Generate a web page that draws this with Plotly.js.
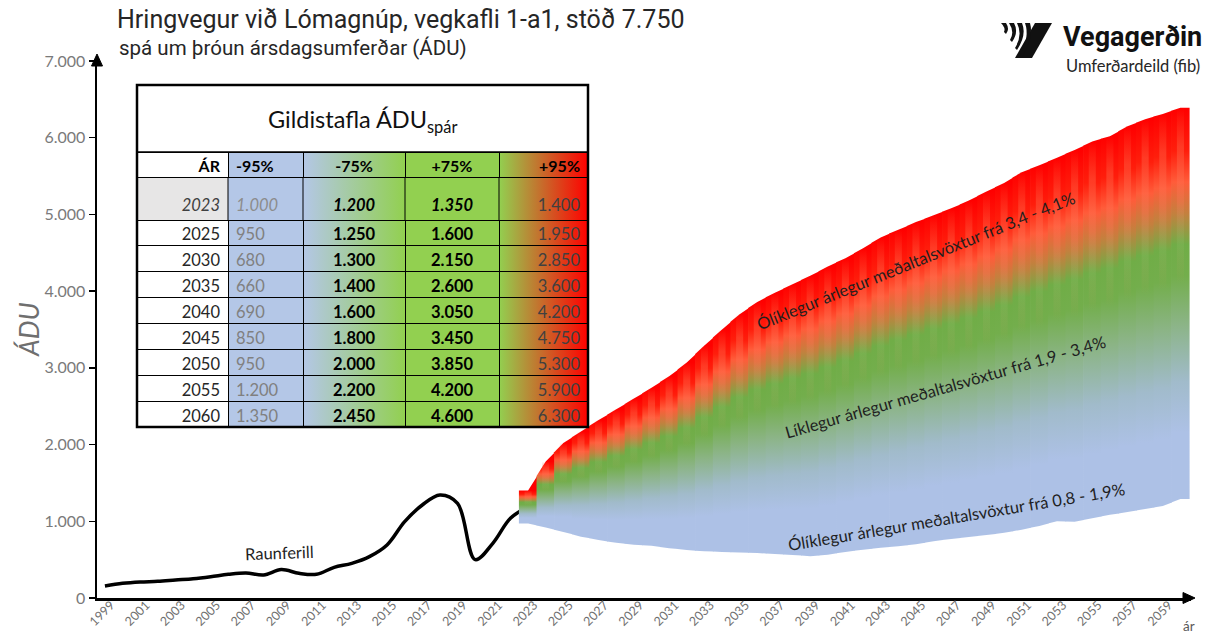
<!DOCTYPE html>
<html>
<head>
<meta charset="utf-8">
<script src="https://cdn.plot.ly/plotly-3.0.1.min.js"></script>
<style>
html,body{margin:0;padding:0;background:#ffffff;}
#chart{width:1215px;height:640px;}
</style>
</head>
<body>
<div id="chart"></div>
<script>
// ---------- DATA ----------
// Actual traffic (Raunferill)
const histYears  = [1999,2000,2001,2002,2003,2004,2005,2006,2007,2008,2009,2010,2011,2012,2013,2014,2015,2016,2017,2018,2019,2020,2021,2022,2023];
const histValues = [156,191,209,217,235,252,278,309,326,300,370,322,309,400,452,539,691,995,1212,1343,1234,500,713,1039,1190];

// Forecast fan: lower (-95%) and upper (+95%) edges
const fanYears = [2023,2024,2025,2026,2027,2028,2029,2030,2031,2032,2033,2034,2035,2036,2037,2038,2039,2040,2041,2042,2043,2044,2045,2046,2047,2048,2049,2050,2051,2052,2053,2054,2055,2056,2057,2058,2059,2060];
const fanLow  = [970,920,860,800,755,720,695,680,650,625,610,600,592,585,575,560,545,565,600,630,655,675,700,740,770,795,820,850,890,940,1000,995,1040,1085,1120,1160,1200,1290];
const fanHigh = [1400,1780,2020,2170,2320,2460,2600,2740,2890,3070,3290,3500,3700,3860,3980,4090,4200,4320,4430,4560,4700,4800,4900,4990,5080,5180,5300,5410,5550,5640,5740,5840,5950,6020,6150,6240,6310,6390];

// Table "Gildistafla ÁDU spár"
const tableHeader = ['ÁR','-95%','-75%','+75%','+95%'];
const tableYears  = [2023,2025,2030,2035,2040,2045,2050,2055,2060];
const low95  = [1000,950,680,660,690,850,950,1200,1350];
const low75  = [1200,1250,1300,1400,1600,1800,2000,2200,2450];
const high75 = [1350,1600,2150,2600,3050,3450,3850,4200,4600];
const high95 = [1400,1950,2850,3600,4200,4750,5300,5900,6300];

// Axis ticks
const xTickYears = [1999,2001,2003,2005,2007,2009,2011,2013,2015,2017,2019,2021,2023,2025,2027,2029,2031,2033,2035,2037,2039,2041,2043,2045,2047,2049,2051,2053,2055,2057,2059];
const yTickVals  = [0,1000,2000,3000,4000,5000,6000,7000];

// ---------- STYLE / GEOMETRY ----------
const W = 1215, H = 640;
const M = {l:97, r:24, t:61, b:42};
const PW = W - M.l - M.r, PH = H - M.t - M.b;
const px = v => (v - M.l) / PW;        // pixel x -> paper
const py = v => (H - M.b - v) / PH;     // pixel y -> paper
const FONT = 'Lato, "Open Sans", sans-serif';
const CLEAR = 'rgba(0,0,0,0)';

function fmt(n){
  const s = String(Math.round(n));
  return s.replace(/\B(?=(\d{3})+(?!\d))/g, '.');
}

const fanScale = [
  [0.00,'#adc1e6'],[0.17,'#adc1e6'],[0.30,'#a1bbcb'],[0.45,'#8bb485'],
  [0.57,'#73ae4c'],[0.65,'#70ad47'],[0.73,'#c4803e'],[0.81,'#ff5c3a'],
  [0.89,'#ff1e0c'],[1.00,'#ff0000']
];
// lighter centre of every yearly stripe (texture of the original)
const bandScale = [
  [0.00,'rgba(255,140,110,0)'],[0.55,'rgba(255,140,110,0)'],[0.66,'rgba(150,200,120,0.18)'],
  [0.76,'rgba(255,120,90,0.30)'],[0.90,'rgba(255,110,80,0.38)'],[0.97,'rgba(255,90,60,0.15)'],
  [1.00,'rgba(255,90,60,0)']
];

const traces = [];
traces.push({
  type:'scatter', mode:'lines', x:histYears, y:histValues,
  line:{color:'#000000', width:3.5, shape:'spline', smoothing:1},
  hoverinfo:'skip', showlegend:false
});

const n = fanYears.length;
fanYears.forEach((yr,i) => {
  const lo = fanLow[i], hi = fanHigh[i];
  const loL = i>0 ? (fanLow[i-1]+lo)/2 : lo;
  const hiL = i>0 ? (fanHigh[i-1]+hi)/2 : hi;
  const loR = i<n-1 ? (lo+fanLow[i+1])/2 : lo;
  const hiR = i<n-1 ? (hi+fanHigh[i+1])/2 : hi;
  const xl = yr-0.52, xr = yr+0.52;
  traces.push({
    type:'scatter', mode:'none',
    x:[xl, yr, xr, xr, yr, xl, xl],
    y:[loL, lo, loR, hiR, hi, hiL, loL],
    fill:'toself',
    fillgradient:{type:'vertical', start:lo, stop:hi, colorscale:fanScale},
    hoverinfo:'skip', showlegend:false
  });
});
fanYears.forEach((yr,i) => {
  const lo = fanLow[i], hi = fanHigh[i];
  traces.push({
    type:'scatter', mode:'none',
    x:[yr-0.2, yr+0.2, yr+0.2, yr-0.2, yr-0.2],
    y:[lo, lo, hi, hi, lo],
    fill:'toself',
    fillgradient:{type:'vertical', start:lo, stop:hi, colorscale:bandScale},
    hoverinfo:'skip', showlegend:false
  });
});

// ---------- TABLE ----------
const colW = [91,75,102,94,89];
const tX0 = 137, tX1 = 588, tTitleTop = 85, tHeadTop = 152, tHeadBot = 177, tGapBot = 191, tRowTop = 220, tBottom = 427;
const colBg = ['#ffffff','#b4c7e7',CLEAR,'#92d050',CLEAR];
const firstRowBg = ['#e7e6e6','#b4c7e7',CLEAR,'#92d050',CLEAR];
const colFontColor = ['#262626','#808080','#000000','#000000','#404040'];
const colAlign = ['right','left','center','center','right'];
const colWeight = [400,400,700,700,400];
const tableCols = [tableYears, low95, low75, high75, high95];
const cellText = (c, r) => c===0 ? String(tableCols[c][r]) : fmt(tableCols[c][r]);
const TFS = 16.5;

// Table A: column header row
traces.push({
  type:'table',
  domain:{x:[px(tX0), px(tX1)], y:[py(tHeadBot+4), py(tHeadTop)]},
  columnwidth: colW,
  header:{
    values: tableHeader.map(h => [h]),
    height: tHeadBot - tHeadTop,
    align: colAlign,
    fill:{color: colBg},
    line:{color:'#000000', width:1},
    font:{family:FONT, size:TFS-0.5, color:'#000000', weight:700}
  },
  cells:{values: []}
});

// Table B: 2023 row (in header slot) + rows 2025 .. 2060
const restRows = tableYears.map((y,i)=>i).slice(1);
traces.push({
  type:'table',
  domain:{x:[px(tX0), px(tX1)], y:[py(tBottom+4), py(tGapBot)]},
  columnwidth: colW,
  header:{
    values: colW.map((w,c) => [cellText(c,0)]),
    height: tRowTop - tGapBot,
    align: colAlign,
    fill:{color: firstRowBg},
    line:{color:CLEAR, width:0},
    font:{family:FONT, size:TFS, color:['#404040','#8c8c8c','#000000','#000000','#404040'],
          weight: colWeight, style:['italic','italic','italic','italic','normal']}
  },
  cells:{
    values: colW.map((w,c) => restRows.map(r => cellText(c,r))),
    height: (tBottom - tRowTop) / restRows.length,
    align: colAlign,
    fill:{color: colBg},
    line:{color:'#000000', width:1},
    font:{family:FONT, size:TFS, color: colFontColor, weight: colWeight}
  }
});

// gradient backgrounds for the two gradient columns
function gradSvg(stops){
  const st = stops.map(s => `<stop offset='${s[0]}' stop-color='${s[1]}'/>`).join('');
  const svg = `<svg xmlns='http://www.w3.org/2000/svg' width='100' height='100' viewBox='0 0 100 100' preserveAspectRatio='none'><defs><linearGradient id='g' x1='0' y1='0' x2='1' y2='0'>${st}</linearGradient></defs><rect x='0' y='0' width='100' height='100' fill='url(#g)'/></svg>`;
  return 'data:image/svg+xml;charset=utf-8,' + encodeURIComponent(svg);
}
const colEdges = [tX0];
colW.forEach(w => colEdges.push(colEdges[colEdges.length-1]+w));

const logoSvg = "<svg xmlns='http://www.w3.org/2000/svg' width='52' height='35' viewBox='0 0 52 35' preserveAspectRatio='none'>" +
  "<path d='M35 0 H52 L32 35 H15 Z' fill='#111'/>" +
  "<path d='M1 0 H6 Q10 6 6 11 L4 9 Q6 5 1 0 Z' fill='#111'/>" +
  "<path d='M9 0 H14 Q19 9 12 19 L10 17 Q15 9 9 0 Z' fill='#111'/>" +
  "<path d='M17 0 H22 Q27 12 17 27 L15 25 Q23 12 17 0 Z' fill='#111'/>" +
  "<path d='M25 0 H30 Q34 14 22 34 L20 32 Q30 14 25 0 Z' fill='#111'/>" +
  "</svg>";

const images = [
  {source: gradSvg([[0,'#b4c7e7'],[1,'#92d050']]), xref:'paper', yref:'paper',
   x:px(colEdges[2]), y:py(tHeadTop), sizex:(colEdges[3]-colEdges[2])/PW, sizey:(tBottom-tHeadTop)/PH,
   xanchor:'left', yanchor:'top', sizing:'stretch', layer:'below'},
  {source: gradSvg([[0,'#92d050'],[0.5,'#c9682a'],[1,'#ff0000']]), xref:'paper', yref:'paper',
   x:px(colEdges[4]), y:py(tHeadTop), sizex:(colEdges[5]-colEdges[4])/PW, sizey:(tBottom-tHeadTop)/PH,
   xanchor:'left', yanchor:'top', sizing:'stretch', layer:'below'},
  {source: 'data:image/svg+xml;charset=utf-8,' + encodeURIComponent(logoSvg), xref:'paper', yref:'paper',
   x:px(1000), y:py(23), sizex:52/PW, sizey:35/PH, xanchor:'left', yanchor:'top', sizing:'stretch', layer:'above'}
];

const pt = (x,y) => px(x) + ',' + py(y);
const shapes = [
  {type:'rect', xref:'paper', yref:'paper', x0:px(tX0), x1:px(tX1), y0:py(tHeadTop), y1:py(tTitleTop),
   fillcolor:'#ffffff', line:{color:'#000000', width:1.5}, layer:'above'},
  {type:'rect', xref:'paper', yref:'paper', x0:px(tX0), x1:px(tX1), y0:py(tBottom), y1:py(tTitleTop),
   fillcolor:CLEAR, line:{color:'#000000', width:2.5}, layer:'above'},
  // axis arrow heads
  {type:'path', xref:'paper', yref:'paper', path:'M' + pt(1183,592.5) + ' L' + pt(1195,598) + ' L' + pt(1183,603.5) + ' Z',
   fillcolor:'#000000', line:{color:'#000000', width:1}, layer:'above'},
  {type:'path', xref:'paper', yref:'paper', path:'M' + pt(91.5,66) + ' L' + pt(97,54) + ' L' + pt(102.5,66) + ' Z',
   fillcolor:'#000000', line:{color:'#000000', width:1}, layer:'above'}
];
// upper (empty) part of the tall 2023 row: solid cell colours
[0,1,3].forEach(c => shapes.push({
  type:'rect', xref:'paper', yref:'paper', x0:px(colEdges[c]), x1:px(colEdges[c+1]), y0:py(tGapBot+0.5), y1:py(tHeadBot),
  fillcolor:firstRowBg[c], line:{width:0}, layer:'below'
}));
// column separators inside the tall 2023 row
colEdges.slice(1,5).forEach(xe => shapes.push({
  type:'line', xref:'paper', yref:'paper', x0:px(xe), x1:px(xe), y0:py(tRowTop), y1:py(tHeadBot),
  line:{color:'#000000', width:1}, layer:'above'
}));

const txt = '#1f1f1f';
const AF = 16.5;
const annotations = [
  {text:'Gildistafla ÁDU<sub>spár</sub>', xref:'paper', yref:'paper', x:px(363), y:py(121),
   xanchor:'center', yanchor:'middle', showarrow:false, font:{family:FONT, size:23.5, color:'#111111'}},
  {text:'spá um þróun ársdagsumferðar (ÁDU)', xref:'paper', yref:'paper', x:px(117), y:py(48),
   xanchor:'left', yanchor:'middle', showarrow:false, font:{family:'Roboto, sans-serif', size:20.5, color:'#262626'}},
  {text:'<b>Vegagerðin</b>', xref:'paper', yref:'paper', x:px(1061), y:py(37),
   xanchor:'left', yanchor:'middle', showarrow:false, font:{family:'Roboto, sans-serif', size:27, color:'#111111'}},
  {text:'Umferðardeild (fib)', xref:'paper', yref:'paper', x:px(1064), y:py(66),
   xanchor:'left', yanchor:'middle', showarrow:false, font:{family:FONT, size:16.5, color:'#262626'}},
  {text:'<i>ÁDU</i>', xref:'paper', yref:'paper', x:px(29), y:py(330), textangle:-90,
   xanchor:'center', yanchor:'middle', showarrow:false, font:{family:FONT, size:26.5, color:'#6f6f6f'}},
  {text:'ár', xref:'paper', yref:'paper', x:px(1189), y:py(626),
   xanchor:'center', yanchor:'middle', showarrow:false, font:{family:FONT, size:13.5, color:'#595959'}},
  {text:'Raunferill', xref:'x', yref:'y', x:2008.9, y:590, textangle:-2,
   xanchor:'center', yanchor:'middle', showarrow:false, font:{family:FONT, size:AF, color:txt}},
  {text:'Ólíklegur árlegur meðaltalsvöxtur frá 3,4 - 4,1%', xref:'x', yref:'y', x:2045.0, y:4406, textangle:-22,
   xanchor:'center', yanchor:'middle', showarrow:false, font:{family:FONT, size:AF, color:txt}},
  {text:'Líklegur árlegur meðaltalsvöxtur frá 1,9 - 3,4%', xref:'x', yref:'y', x:2046.7, y:2751, textangle:-16,
   xanchor:'center', yanchor:'middle', showarrow:false, font:{family:FONT, size:AF, color:txt}},
  {text:'Ólíklegur árlegur meðaltalsvöxtur frá 0,8 - 1,9%', xref:'x', yref:'y', x:2047.3, y:1056, textangle:-9.5,
   xanchor:'center', yanchor:'middle', showarrow:false, font:{family:FONT, size:AF, color:txt}}
];

const layout = {
  width:W, height:H,
  margin:{l:M.l, r:M.r, t:M.t, b:M.b, pad:0},
  paper_bgcolor:'#ffffff', plot_bgcolor:'#ffffff',
  separators:',.',
  showlegend:false,
  title:{text:'Hringvegur við Lómagnúp, vegkafli 1-a1, stöð 7.750',
         font:{family:'Roboto, sans-serif', size:25, color:'#262626'},
         x:117/W, xref:'container', xanchor:'left', y:1-10/H, yref:'container', yanchor:'top'},
  xaxis:{range:[1998.55, 2060.6], showgrid:false, zeroline:false, showline:true,
         linecolor:'#000000', linewidth:3, ticks:'', tickvals:xTickYears,
         ticktext:xTickYears.map(String), tickangle:-45,
         ticklabelstandoff:-8, ticklabelshift:6,
         tickfont:{family:FONT, size:12.5, color:'#6f6f6f'}, fixedrange:true},
  yaxis:{range:[0,7000], showgrid:false, zeroline:false, showline:true,
         linecolor:'#000000', linewidth:2.5, ticks:'outside', ticklen:6, tickwidth:1.5, tickcolor:'#000000',
         tickvals:yTickVals, tickformat:',d',
         tickfont:{family:FONT, size:16, color:'#7a7a7a'}, fixedrange:true},
  shapes:shapes, images:images, annotations:annotations
};

Plotly.newPlot('chart', traces, layout, {displayModeBar:false, staticPlot:true});
</script>
</body>
</html>
